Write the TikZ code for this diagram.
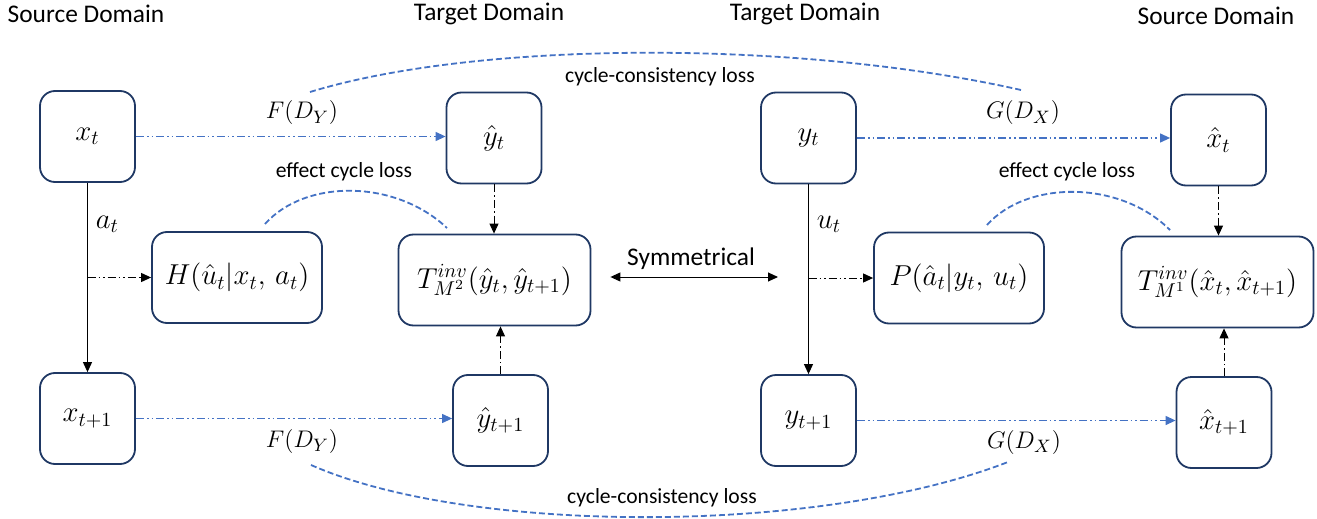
\documentclass[tikz,border=0pt]{standalone}
\usepackage{fontspec}
\setmainfont{Carlito}
\usetikzlibrary{arrows.meta,calc}
\definecolor{boxline}{HTML}{1F3864}
\definecolor{mapblue}{HTML}{4472C4}
\begin{document}
\begin{tikzpicture}[x=0.5pt,y=-0.5pt,
  box/.style={draw=boxline, line width=0.9pt, rounded corners=7.5pt, fill=white,
    inner sep=0pt, font=\fontsize{14}{16}\selectfont},
  small/.style={box, minimum width=47.5pt, minimum height=45.5pt},
  wide/.style={box, minimum width=85pt, minimum height=45.5pt},
  wider/.style={box, minimum width=96pt, minimum height=45.5pt},
  title/.style={font=\fontsize{12.7}{14}\selectfont},
  note/.style={font=\fontsize{10.8}{12}\selectfont},
  mlabel/.style={font=\fontsize{12.5}{14}\selectfont},
  tip/.style={-{Triangle[length=5pt,width=4.5pt]}},
  trans/.style={tip, line width=0.5pt},
  dashdot/.style={tip, line width=0.5pt, dash pattern=on 4pt off 1.5pt on 0.8pt off 1.5pt},
  dashdotdot/.style={tip, line width=0.5pt,
    dash pattern=on 4pt off 1.5pt on 0.8pt off 1.5pt on 0.8pt off 1.5pt},
  mapping/.style={dashdotdot, draw=mapblue, line width=0.6pt},
  losscurve/.style={draw=mapblue, line width=0.9pt, dash pattern=on 3pt off 1.5pt}
]
\useasboundingbox (0,0) rectangle (1317,519);

% domain headings
\node[title] (h1) at (86,14) {Source Domain};
\node[title] (h2) at (489,14) {Target Domain};
\node[title] (h3) at (805,14) {Target Domain};
\node[title] (h4) at (1216,16) {Source Domain};

% left half: source to target
\node[small] (xt)   at (87.5,136.5)  {$x_t$};
\node[small] (yht)  at (494,138)     {$\hat{y}_t$};
\node[wide]  (hh)   at (237,277.5)   {$H(\hat{u}_t|x_t,\, a_t)$};
\node[wider] (tm2)  at (494.5,280)   {$T^{inv}_{M^2}(\hat{y}_t,\hat{y}_{t+1})$};
\node[small] (xt1)  at (87.5,418.5)  {$x_{t+1}$};
\node[small] (yht1) at (500.5,420.5) {$\hat{y}_{t+1}$};

% right half: target to source
\node[small] (yt)   at (808.5,138)   {$y_t$};
\node[small] (xht)  at (1218.5,140)  {$\hat{x}_t$};
\node[wide]  (pp)   at (959,278)     {$P(\hat{a}_t|y_t,\, u_t)$};
\node[wider] (tm1)  at (1217.5,282)  {$T^{inv}_{M^1}(\hat{x}_t,\hat{x}_{t+1})$};
\node[small] (yt1)  at (808.5,420.5) {$y_{t+1}$};
\node[small] (xht1) at (1224,422.5)  {$\hat{x}_{t+1}$};

% transitions
\draw[trans] (xt.south) -- (xt1.north);
\draw[trans] (yt.south) -- (yt1.north);
\node[box, draw=none, fill=none, anchor=west] (at) at (95,224) {$a_t$};
\node[box, draw=none, fill=none, anchor=west] (ut) at (816,224) {$u_t$};
\coordinate (bh) at (xt.south |- hh.west);
\coordinate (bp) at (yt.south |- pp.west);
\draw[dashdotdot] (bh) -- (hh.west);
\draw[dashdotdot] (bp) -- (pp.west);

% inverse models
\draw[dashdot] (yht.south) -- (yht.south |- tm2.north);
\draw[dashdot] (yht1.north) -- (yht1.north |- tm2.south);
\draw[dashdot] (xht.south) -- (xht.south |- tm1.north);
\draw[dashdot] (xht1.north) -- (xht1.north |- tm1.south);

% domain mappings
\draw[mapping] (xt.east) -- (xt.east -| yht.west);
\draw[mapping] (xt1.east) -- (xt1.east -| yht1.west);
\draw[mapping] (yt.east) -- (yt.east -| xht.west);
\draw[mapping] (yt1.east) -- (yt1.east -| xht1.west);
\node[mlabel] (f1) at (302,113) {$F(D_Y)$};
\node[mlabel] (f2) at (302,441) {$F(D_Y)$};
\node[mlabel] (g1) at (1023,113) {$G(D_X)$};
\node[mlabel] (g2) at (1024,442) {$G(D_X)$};

% symmetry between the halves
\coordinate (sl) at ($(tm2.east |- 0,277)+(19,0)$);
\coordinate (sr) at (778,277);
\draw[{Triangle[length=5pt,width=4.5pt]}-{Triangle[length=5pt,width=4.5pt]}, line width=0.5pt] (sl) -- (sr);
\node[title] (sym) at (691,259) {Symmetrical};

% loss curves
\draw[losscurve] (310,92) .. controls (480,40) and (800,40) .. (1021,90);
\node[note] (c1) at (660,77) {cycle-consistency loss};
\draw[losscurve] (311,465) .. controls (470,535) and (820,535) .. (1008,462);
\node[note] (c2) at (662,498) {cycle-consistency loss};
\draw[losscurve] (265,224) .. controls (305,179) and (395,179) .. (447,228);
\node[note] (e1) at (344,172) {effect cycle loss};
\draw[losscurve] (987,225) .. controls (1027,180) and (1120,180) .. (1170,230);
\node[note] (e2) at (1067,172) {effect cycle loss};
\end{tikzpicture}
\end{document}
